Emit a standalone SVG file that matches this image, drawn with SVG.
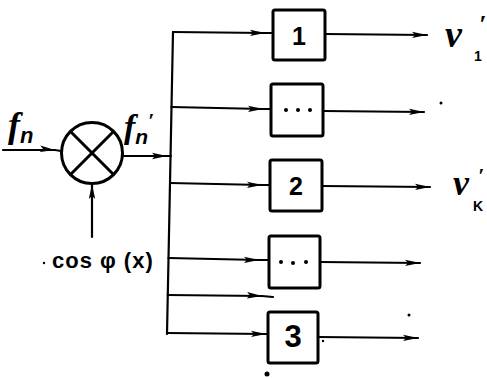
<svg xmlns="http://www.w3.org/2000/svg" width="487" height="378" viewBox="0 0 487 378">
<style>
.ln{fill:none;stroke:#000;stroke-width:2.2;stroke-linecap:round}
.box{fill:#fff;stroke:#000;stroke-width:3}
.num{font-family:"Liberation Sans",Arial,sans-serif;font-weight:bold;fill:#000;text-anchor:middle}
.hand{font-family:"Liberation Serif","Times New Roman",serif;font-style:italic;font-weight:bold;fill:#000}
.sub{font-family:"Liberation Sans",Arial,sans-serif;font-weight:bold;fill:#000}
.dot{fill:#000}
</style>
<defs>
<marker id="ah" markerUnits="userSpaceOnUse" markerWidth="16" markerHeight="8" refX="15" refY="4" orient="auto">
<path d="M0,0.8 L15,4 L0,7.2 L3,4 Z" fill="#000"/>
</marker>
</defs>
<g id="connectors">
<path class="ln" d="M3,150 L55,150 L61,151" marker-mid="url(#ah)"/>
<path class="ln" d="M123,156 L167,156 L171,156" marker-mid="url(#ah)"/>
<path class="ln" d="M92,237 L92,184"  marker-end="url(#ah)"/>
<path class="ln" d="M173,32 L167,334"/>
<path class="ln" d="M173,32 L265,33 L273,33" marker-mid="url(#ah)"/>
<path class="ln" d="M171.5,107 L263,109 L271,109" marker-mid="url(#ah)"/>
<path class="ln" d="M170,183 L262,185 L270,185" marker-mid="url(#ah)"/>
<path class="ln" d="M168.5,258 L259,260 L269,260" marker-mid="url(#ah)"/>
<path class="ln" d="M167.8,295 L262,296 L273,297" marker-mid="url(#ah)"/>
<path class="ln" d="M167,333 L266,334 L268,334" marker-mid="url(#ah)"/>
<path class="ln" d="M325,34 L427,35" marker-end="url(#ah)"/>
<path class="ln" d="M323,111 L424,112" marker-end="url(#ah)"/>
<path class="ln" d="M322,186 L430,187" marker-end="url(#ah)"/>
<path class="ln" d="M320,262 L420,263" marker-end="url(#ah)"/>
<path class="ln" d="M318,337 L418,338" marker-end="url(#ah)"/>
</g>
<g id="multiplier">
<circle cx="92" cy="153" r="30.5" fill="#fff" stroke="#000" stroke-width="3"/>
<path d="M70,131 L114,175 M114,131 L70,175" stroke="#000" stroke-width="3" fill="none"/>
</g>
<g id="box1">
<rect class="box" x="273" y="10" width="52" height="50" rx="2"/>
<text class="num" x="299" y="45" font-size="25">1</text>
</g>
<g id="boxdots1">
<rect class="box" x="271" y="84" width="52" height="52" rx="2"/>
<circle class="dot" cx="286" cy="110" r="2"/>
<circle class="dot" cx="298" cy="110" r="2"/>
<circle class="dot" cx="310" cy="110" r="2"/>
</g>
<g id="box2">
<rect class="box" x="270" y="160" width="52" height="51" rx="2"/>
<text class="num" x="296" y="195" font-size="25">2</text>
</g>
<g id="boxdots2">
<rect class="box" x="269" y="236" width="51" height="52" rx="2"/>
<circle class="dot" cx="281" cy="262" r="2"/>
<circle class="dot" cx="293" cy="263" r="2"/>
<circle class="dot" cx="306" cy="262" r="2"/>
</g>
<g id="box3">
<rect class="box" x="268" y="312" width="50" height="51" rx="2"/>
<text class="num" x="293" y="347" font-size="31">3</text>
</g>
<g id="labels">
<text class="hand" x="8" y="137" font-size="36">f<tspan class="sub" font-size="22" dy="6">n</tspan></text>
<text class="hand" x="124" y="138" font-size="34">f<tspan class="sub" font-size="21" dy="6">n</tspan></text>
<text class="hand" x="148" y="128" font-size="22">′</text>
<text class="sub" x="52" y="268" font-size="22" letter-spacing="1">cos φ (x)</text>
<text class="hand" x="445" y="47" font-size="38">v</text>
<text class="hand" x="479" y="33" font-size="26">′</text>
<text class="sub" x="474" y="61" font-size="14">1</text>
<text class="hand" x="453" y="195" font-size="36">v</text>
<text class="hand" x="478" y="183" font-size="22">′</text>
<text class="sub" x="473" y="211" font-size="14">K</text>
</g>
<g id="specks">
<circle class="dot" cx="44" cy="263" r="1.2"/>
<circle class="dot" cx="441" cy="103" r="1.5"/>
<circle class="dot" cx="409" cy="315" r="1.5"/>
<circle class="dot" cx="323" cy="341" r="1.2"/>
<circle class="dot" cx="267" cy="374" r="2.5"/>
</g>
</svg>
